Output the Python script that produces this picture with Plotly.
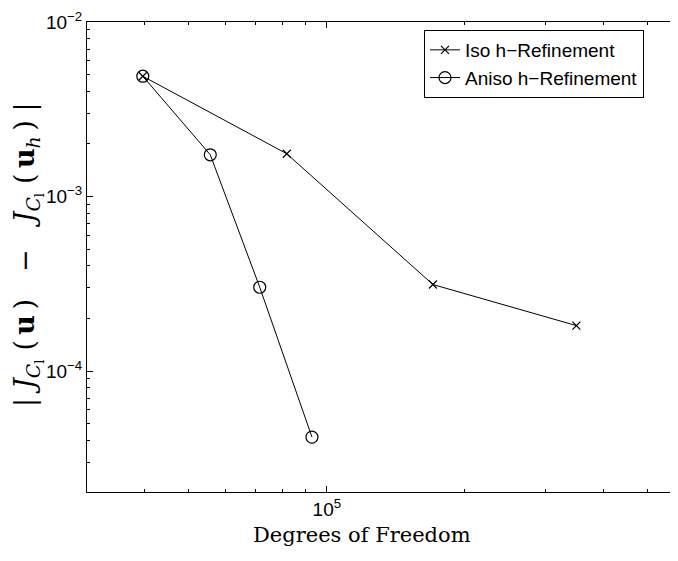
import numpy as np
import plotly.graph_objects as go

# ---- data ----
iso_dof = [39700, 81800, 170300, 350000]
iso_err = [4.89e-3, 1.757e-3, 3.13e-4, 1.82e-4]
aniso_dof = [39700, 55700, 71400, 92800]
aniso_err = [4.89e-3, 1.734e-3, 3.02e-4, 4.18e-5]

x_major = [1e5]
x_major_text = ["10<sup>5</sup>"]
y_major = [1e-2, 1e-3, 1e-4]
y_major_text = ["10<sup>−2</sup>", "10<sup>−3</sup>", "10<sup>−4</sup>"]

# page body has an 8px margin, so the figure is drawn 8px in from the top-left
OFF = 8
W, H = 678 - OFF, 561 - OFF
L, R, T, B = 87 - OFF, 0, 22 - OFF, 69
pw, ph = W - L - R, H - T - B

x_lo = np.log10(3e4)
x_hi = x_lo + pw / 458.7
y_hi = -2.0
y_lo = -2.0 - ph / 174.5

x_minor = [m * 10**e for e in (4, 5) for m in range(2, 10)]
y_minor = [m * 10**e for e in (-5, -4, -3) for m in range(2, 10)]

fig = go.Figure()
fig.add_trace(go.Scatter(
    x=iso_dof, y=iso_err, mode="lines+markers", name="Iso h−Refinement",
    line=dict(color="black", width=1),
    marker=dict(symbol="x-thin-open", size=8, color="black",
                line=dict(color="black", width=1.2)),
))
fig.add_trace(go.Scatter(
    x=aniso_dof, y=aniso_err, mode="lines+markers", name="Aniso h−Refinement",
    line=dict(color="black", width=1),
    marker=dict(symbol="circle-open", size=12, color="black",
                line=dict(color="black", width=1.2)),
))

tickfont = dict(family="Liberation Sans, Arial, sans-serif", size=19, color="black")
axis_common = dict(
    showline=True, linecolor="black", linewidth=1, showgrid=False, zeroline=False,
    ticks="inside", ticklen=6, tickcolor="black", tickwidth=1, tickfont=tickfont,
)
fig.update_xaxes(
    type="log", range=[x_lo, x_hi], tickvals=x_major, ticktext=x_major_text,
    mirror="ticks",
    minor=dict(tickvals=x_minor, ticks="inside", ticklen=3, tickcolor="black", tickwidth=1),
    **axis_common,
)
fig.update_yaxes(
    type="log", range=[y_lo, y_hi], tickvals=y_major, ticktext=y_major_text,
    mirror=False,
    minor=dict(tickvals=y_minor, ticks="inside", ticklen=3, tickcolor="black", tickwidth=1),
    **axis_common,
)

serif = "DejaVu Serif, Liberation Serif, serif"
fig.add_annotation(
    text="Degrees of Freedom", xref="paper", yref="paper",
    x=(362 - 87) / pw, y=-(535 - 492) / ph, xanchor="center", yanchor="middle",
    showarrow=False, font=dict(family=serif, size=21, color="black"),
)
ms = "\u2004"
ts = "\u2009"
es = "\u2003"
ylabel = (
    "|" + ms + "<i>J</i><sub><i>C</i><sub>l</sub></sub>" + ms + "(" + ts + "<b>u</b>" + ts + ")"
    + es + "−" + es
    + "<i>J</i><sub><i>C</i><sub>l</sub></sub>" + ms + "(" + ts + "<b>u</b><sub><i>h</i></sub>" + ts + ")" + ms + "|"
)
fig.add_annotation(
    text=ylabel,
    xref="paper", yref="paper", x=(28 - 87) / pw, y=1 - (255 - 22) / ph,
    xanchor="center", yanchor="middle", textangle=-90,
    showarrow=False, font=dict(family=serif, size=27, color="black"),
)

fig.update_layout(
    width=W, height=H, margin=dict(l=L, r=R, t=T, b=B),
    paper_bgcolor="white", plot_bgcolor="white",
    showlegend=True,
    legend=dict(
        x=(424 - 87) / pw, y=1 - (30 - 22) / ph, xanchor="left", yanchor="top",
        bgcolor="white", bordercolor="black", borderwidth=1,
        font=dict(family="Liberation Sans, Arial, sans-serif", size=19, color="black"),
        tracegroupgap=0, itemwidth=30,
    ),
)

fig.write_html("out.html")
